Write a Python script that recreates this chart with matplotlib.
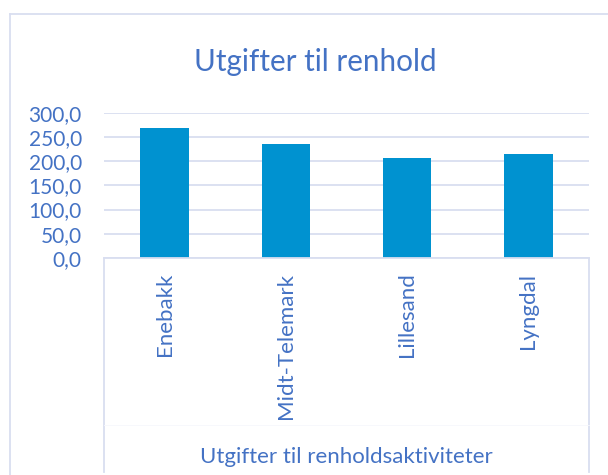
import matplotlib.pyplot as plt
from matplotlib.lines import Line2D

kommuner = ['Enebakk', 'Midt-Telemark', 'Lillesand', 'Lyngdal']
utgifter = [268.0, 236.0, 206.0, 214.5]
yticks = [0, 50, 100, 150, 200, 250, 300]
ytick_labels = ['0,0', '50,0', '100,0', '150,0', '200,0', '250,0', '300,0']

plt.rcParams['font.family'] = ['Lato', 'DejaVu Sans']
txt = '#4472C4'
grid = '#D9DEF0'
W, H = 608, 475

fig = plt.figure(figsize=(6.08, 4.75), dpi=100)
ax = fig.add_axes([104 / W, (H - 258) / H, 485 / W, 145.3 / H])

x = range(len(kommuner))
ax.bar(x, utgifter, width=0.4, color='#0092D0', zorder=3)
ax.set_xlim(-0.5, len(kommuner) - 0.5)
ax.set_ylim(0, 300)
ax.set_yticks(yticks)
ax.set_yticklabels(ytick_labels, color=txt, fontsize=15)
ax.set_xticks([])
ax.tick_params(axis='y', length=0, pad=16)
for s in ax.spines.values():
    s.set_visible(False)
ax.grid(axis='y', color=grid, linewidth=1.3, zorder=0)

# rotated category labels
for i, k in enumerate(kommuner):
    ax.annotate(k, (i, 0), xytext=(0, -10.5), textcoords='offset points',
                rotation=90, ha='center', va='top', color=txt, fontsize=16)

# category box below the axis
def fline(x0, y0, x1, y1, lw=1.3, c=grid):
    fig.add_artist(Line2D([x0 / W, x1 / W], [1 - y0 / H, 1 - y1 / H],
                          color=c, linewidth=lw))

fline(104, 258, 589, 258)
fline(104, 258, 104, 472)
fline(589, 258, 589, 472)
fline(104, 425, 589, 425, lw=0.6, c='#F6F7FC')

# outer chart border
fline(9.5, 14, 9.5, 475)
fline(9.5, 14, 608, 14)

fig.text(346 / W, 1 - 457 / H, 'Utgifter til renholdsaktiviteter',
         ha='center', va='center', color=txt, fontsize=16)
fig.text(315 / W, 1 - 62 / H, 'Utgifter til renhold',
         ha='center', va='center', color=txt, fontsize=21.3)

fig.savefig('out.png', dpi=100)
